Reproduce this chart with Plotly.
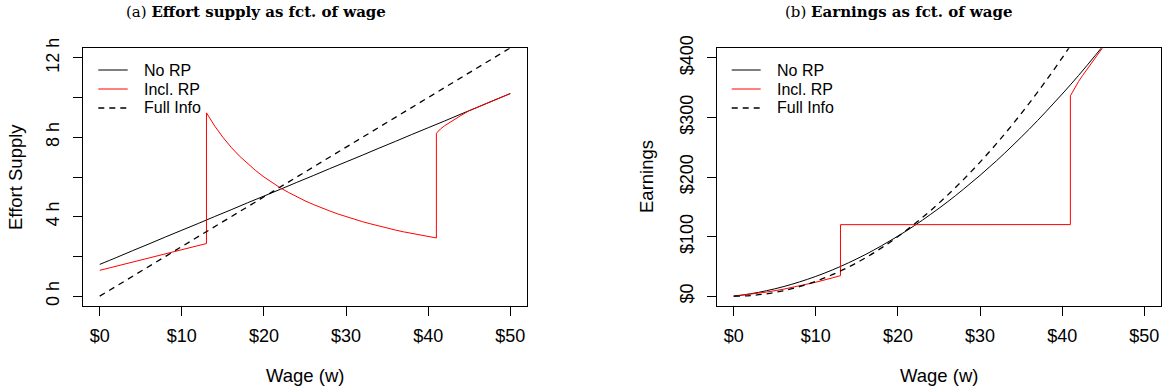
import plotly.graph_objects as go

W, H = 1167, 392

# ---- data -------------------------------------------------------------
# wage grid for the smooth schedules
wage_grid = [0, 2, 4, 6, 8, 10, 12, 14, 16, 18, 20, 22, 24, 26, 28, 30,
             32, 34, 36, 38, 40, 42, 44, 46, 48, 50]

# effort (hours) without reference point
effort_no_rp = [1.60, 1.94, 2.29, 2.63, 2.98, 3.32, 3.66, 4.01, 4.35, 4.70,
                5.04, 5.38, 5.73, 6.07, 6.42, 6.76, 7.10, 7.45, 7.79, 8.14,
                8.48, 8.82, 9.17, 9.51, 9.86, 10.20]

# effort (hours) under full information
effort_full = [0.00, 0.50, 1.00, 1.50, 2.00, 2.50, 3.00, 3.50, 4.00, 4.50,
               5.00, 5.50, 6.00, 6.50, 7.00, 7.50, 8.00, 8.50, 9.00, 9.50,
               10.00, 10.50, 11.00, 11.50, 12.00, 12.50]

# effort (hours) including reference point: three regimes
wage_rp_low = [0, 2, 4, 6, 8, 10, 12, 13]
effort_rp_low = [1.30, 1.51, 1.72, 1.92, 2.13, 2.34, 2.55, 2.65]

wage_rp_mid = [13, 14, 15, 16, 17, 18, 19, 20, 21, 22, 23, 24, 25, 26, 27,
               28, 29, 30, 31, 32, 33, 34, 35, 36, 37, 38, 39, 40, 41]
effort_rp_mid = [9.23, 8.57, 8.00, 7.50, 7.06, 6.67, 6.32, 6.00, 5.71, 5.45,
                 5.22, 5.00, 4.80, 4.62, 4.44, 4.29, 4.14, 4.00, 3.87, 3.75,
                 3.64, 3.53, 3.43, 3.33, 3.24, 3.16, 3.08, 3.00, 2.93]

wage_rp_high = [41, 41.5, 42, 42.5, 43, 43.5, 44, 44.5, 45, 46, 48, 50]
effort_rp_high = [8.20, 8.42, 8.58, 8.72, 8.85, 8.97, 9.10, 9.22, 9.34,
                  9.51, 9.86, 10.20]

x_ticks = [0, 10, 20, 30, 40, 50]
x_tick_text = ["$0", "$10", "$20", "$30", "$40", "$50"]
effort_ticks = [0, 2, 4, 6, 8, 10, 12]
effort_tick_text = ["0 h", "", "4 h", "", "8 h", "", "12 h"]
earn_ticks = [0, 100, 200, 300, 400]
earn_tick_text = ["$0", "$100", "$200", "$300", "$400"]

series_names = ["No RP", "Incl. RP", "Full Info"]

# ---- derived series ---------------------------------------------------
wage_rp = wage_rp_low + wage_rp_mid + wage_rp_high
effort_rp = effort_rp_low + effort_rp_mid + effort_rp_high

earn_no_rp = [w * e for w, e in zip(wage_grid, effort_no_rp)]
earn_full = [w * e for w, e in zip(wage_grid, effort_full)]
earn_rp = [w * e for w, e in zip(wage_rp, effort_rp)]

# ---- layout helpers (pixel -> paper) -----------------------------------
def px(x):
    return x / W


def py(y):
    return 1 - y / H


FONT = "Liberation Sans, Arial, sans-serif"
SERIF = "DejaVu Serif, serif"
BLACK = "#000000"
RED = "#FF0000"
DASH = "6px,5px"
TICK_SIZE = 18
TITLE_SIZE = 18.5
LEGEND_SIZE = 16


def line_style(kind):
    if kind == 0:
        return dict(color=BLACK, width=1)
    if kind == 1:
        return dict(color=RED, width=1)
    return dict(color=BLACK, width=1.3, dash=DASH)


fig = go.Figure()

# panel (a): effort supply
fig.add_trace(go.Scatter(x=wage_grid, y=effort_no_rp, mode="lines",
                         line=dict(color=BLACK, width=1, shape="spline"),
                         xaxis="x", yaxis="y", showlegend=False))
fig.add_trace(go.Scatter(x=wage_rp, y=effort_rp, mode="lines",
                         line=dict(color=RED, width=1),
                         xaxis="x", yaxis="y", showlegend=False))
fig.add_trace(go.Scatter(x=wage_grid, y=effort_full, mode="lines",
                         line=dict(color=BLACK, width=1.3, dash=DASH),
                         xaxis="x", yaxis="y", showlegend=False))

# panel (b): earnings
fig.add_trace(go.Scatter(x=wage_grid, y=earn_no_rp, mode="lines",
                         line=dict(color=BLACK, width=1, shape="spline"),
                         xaxis="x2", yaxis="y2", showlegend=False))
fig.add_trace(go.Scatter(x=wage_rp, y=earn_rp, mode="lines",
                         line=dict(color=RED, width=1),
                         xaxis="x2", yaxis="y2", showlegend=False))
fig.add_trace(go.Scatter(x=wage_grid, y=earn_full, mode="lines",
                         line=dict(color=BLACK, width=1.3, dash=DASH,
                                   shape="spline"),
                         xaxis="x2", yaxis="y2", showlegend=False))

y_dom = [py(305.7), py(48.3)]


def axis_common():
    return dict(showline=True, mirror=True, linecolor=BLACK, linewidth=1,
                ticks="outside", ticklen=9, tickcolor=BLACK, tickwidth=1,
                showgrid=False, zeroline=False, automargin=False,
                tickfont=dict(family=FONT, size=TICK_SIZE, color=BLACK))


fig.update_layout(
    width=W, height=H,
    margin=dict(l=0, r=0, t=0, b=0, pad=0),
    paper_bgcolor="white", plot_bgcolor="white",
    xaxis=dict(domain=[px(83.3), px(526.7)], range=[-2, 52], anchor="y",
               tickvals=x_ticks, ticktext=x_tick_text,
               ticklabelstandoff=5, **axis_common()),
    yaxis=dict(domain=y_dom, range=[-0.48, 12.48], anchor="x",
               tickvals=effort_ticks, ticktext=effort_tick_text,
               tickangle=-90, ticklabelstandoff=7, **axis_common()),
    xaxis2=dict(domain=[px(717.3), px(1160.7)], range=[-2, 52], anchor="y2",
                tickvals=x_ticks, ticktext=x_tick_text,
                ticklabelstandoff=5, **axis_common()),
    yaxis2=dict(domain=y_dom, range=[-16, 416], anchor="x2",
                tickvals=earn_ticks, ticktext=earn_tick_text,
                tickangle=-90, ticklabelstandoff=7, **axis_common()),
)

annotations = []


def text(x, y, s, size=TITLE_SIZE, family=FONT, xanchor="center", angle=0):
    annotations.append(dict(x=px(x), y=py(y), xref="paper", yref="paper",
                            text=s, showarrow=False, xanchor=xanchor,
                            yanchor="middle", textangle=angle,
                            font=dict(family=family, size=size, color=BLACK)))


# panel titles
text(256, 12, "(a) <b>Effort supply as fct. of wage</b>", size=15, family=SERIF)
text(783, 12, "(b) <b>Earnings as fct. of wage</b>", size=15, family=SERIF,
     xanchor="left")

# axis titles
text(305, 375, "Wage (w)")
text(939, 375, "Wage (w)")
text(16, 177, "Effort Supply", angle=-90)
text(647, 177, "Earnings", angle=-90)

# legends drawn inside each panel
shapes = []
legend_rows = [70, 89, 108]
for x0, x1, xt in [(98.3, 127.7, 141.7), (731.7, 760.7, 775)]:
    for k, (name, yr) in enumerate(zip(series_names, legend_rows)):
        shapes.append(dict(type="line", xref="paper", yref="paper",
                           x0=px(x0), x1=px(x1), y0=py(yr), y1=py(yr),
                           line=line_style(k)))
        text(xt, yr, name, size=LEGEND_SIZE, xanchor="left")

fig.update_layout(annotations=annotations, shapes=shapes)

fig.write_html("out.html")
